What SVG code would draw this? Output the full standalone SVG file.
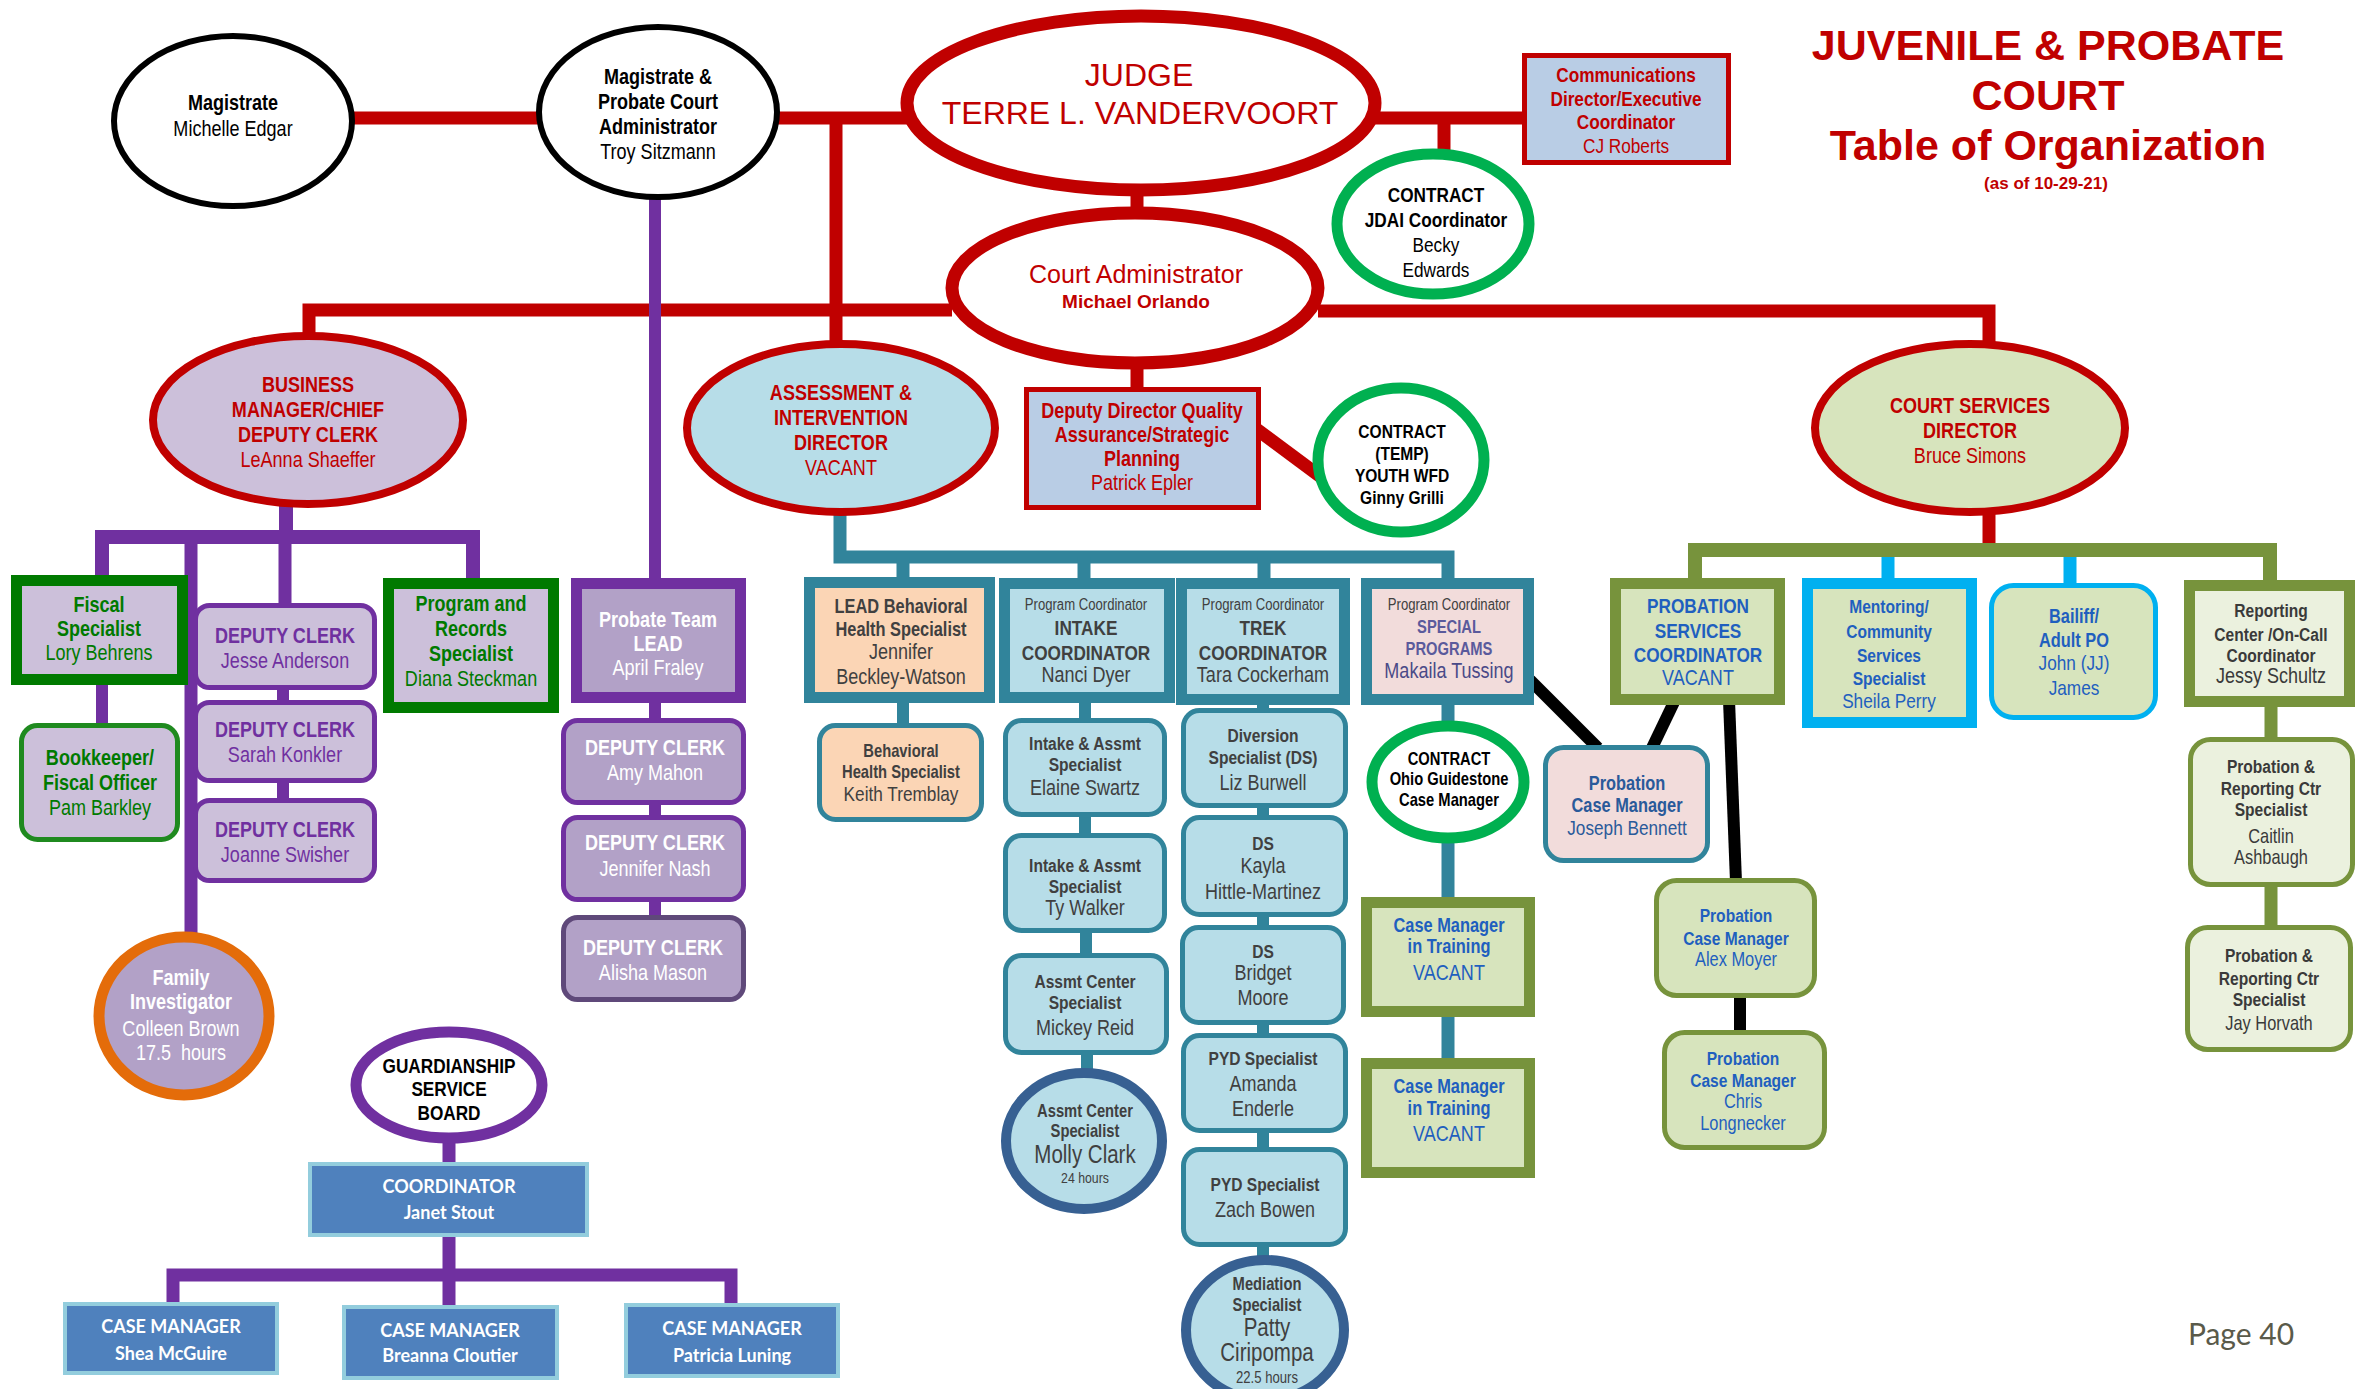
<svg xmlns="http://www.w3.org/2000/svg" width="2356" height="1389" viewBox="0 0 2356 1389">
<style>
text{text-anchor:middle}
.b{font-weight:bold}
.lato{font-family:Lato,"Liberation Sans",sans-serif;font-weight:bold;font-size:18px}
</style>
<rect width="2356" height="1389" fill="#fff"/>
<g font-family="'Liberation Sans', Arial, sans-serif" font-size="22">
<g id="connectors" fill="none">
 <g stroke="#c00000" stroke-width="13">
  <path d="M350 118 H545"/>
  <path d="M775 118 H910"/>
  <path d="M1375 118 H1527"/>
  <path d="M1444 118 V152"/>
  <path d="M836 118 V345"/>
  <path d="M1137 190 V215"/>
  <path d="M309 338 V310 H952"/>
  <path d="M1318 311 H1989 V343"/>
  <path d="M1137 365 V390"/>
  <path d="M1255 428 L1325 480"/>
  <path d="M1989 510 V544"/>
 </g>
 <g stroke="#7030a0">
  <path stroke-width="12" d="M655 195 V582"/>
  <path stroke-width="14" d="M286 505 V538"/>
  <path stroke-width="14" d="M102 578 V537 H473 V581"/>
  <path stroke-width="13" d="M191 537 V935"/>
  <path stroke-width="13" d="M285 537 V606"/>
  <path stroke-width="12" d="M102 683 V726"/>
  <path stroke-width="12" d="M283 686 V704 M283 779 V802"/>
  <path stroke-width="12" d="M655 700 V721 M655 801 V818 M655 898 V918"/>
  <path stroke-width="13" d="M449 1140 V1165 M449 1235 V1308"/>
  <path stroke-width="13" d="M173 1305 V1275 H731 V1306"/>
 </g>
 <g stroke="#31849b" stroke-width="13">
  <path d="M840 510 V557 H1448 V581"/>
  <path d="M903 557 V580 M1084 557 V581 M1264 557 V581"/>
  <path stroke-width="12" d="M903 700 V726"/>
  <path stroke-width="12" d="M1085 700 V721 M1085 815 V836 M1086 930 V956 M1087 1052 V1071"/>
  <path stroke-width="12" d="M1263 700 V711 M1263 805 V818 M1263 914 V928 M1263 1022 V1036 M1263 1130 V1150 M1263 1244 V1258"/>
  <path d="M1448 700 V723 M1448 840 V900 M1448 1014 V1061"/>
 </g>
 <g stroke="#000" stroke-width="12">
  <path d="M1530 680 L1598 748"/>
  <path d="M1675 700 L1651 750"/>
  <path d="M1729 700 L1736 882"/>
  <path d="M1740 994 V1034"/>
 </g>
 <g stroke="#00b0f0" stroke-width="13">
  <path d="M1888 556 V581 M2070 556 V587"/>
 </g>
 <g stroke="#77933c" stroke-width="14">
  <path d="M1695 582 V550 H2270 V584"/>
  <path stroke-width="13" d="M2271 703 V740 M2271 884 V928"/>
 </g>
</g>

<g id="title" fill="#c00000" font-weight="bold">
 <text x="2048" y="60" font-size="43">JUVENILE &amp; PROBATE</text>
 <text x="2048" y="110" font-size="43">COURT</text>
 <text x="2048" y="160" font-size="43">Table of Organization</text>
 <text x="2046" y="189" font-size="17">(as of 10-29-21)</text>
</g>

<g id="magistrate">
 <ellipse cx="233" cy="121" rx="119" ry="85" fill="#fff" stroke="#000" stroke-width="6"/>
 <g transform="translate(233 0) scale(0.82 1)" fill="#000">
  <text class="b" y="110">Magistrate</text>
  <text y="136">Michelle Edgar</text>
 </g>
</g>
<g id="magistrate-probate">
 <ellipse cx="658" cy="112" rx="119" ry="85" fill="#fff" stroke="#000" stroke-width="6"/>
 <g transform="translate(658 0) scale(0.82 1)" fill="#000">
  <text class="b" y="84">Magistrate &amp;</text>
  <text class="b" y="109">Probate Court</text>
  <text class="b" y="134">Administrator</text>
  <text y="159">Troy Sitzmann</text>
 </g>
</g>
<g id="judge">
 <ellipse cx="1141" cy="103" rx="234" ry="87" fill="#fff" stroke="#c00000" stroke-width="13"/>
 <g fill="#c00000" font-size="32">
  <text x="1139" y="86">JUDGE</text>
  <text x="1140" y="124">TERRE L. VANDERVOORT</text>
 </g>
</g>
<g id="communications">
 <rect x="1524.5" y="55.5" width="204" height="107" fill="#b9cde5" stroke="#c00000" stroke-width="5"/>
 <g transform="translate(1626 0) scale(0.82 1)" fill="#c00000" font-size="21">
  <text class="b" y="82">Communications</text>
  <text class="b" y="106">Director/Executive</text>
  <text class="b" y="129">Coordinator</text>
  <text y="153">CJ Roberts</text>
 </g>
</g>
<g id="jdai">
 <ellipse cx="1433" cy="224" rx="96" ry="70" fill="#fff" stroke="#00b050" stroke-width="11"/>
 <g transform="translate(1436 0) scale(0.82 1)" fill="#000" font-size="21">
  <text class="b" y="202">CONTRACT</text>
  <text class="b" y="227">JDAI Coordinator</text>
  <text y="252">Becky</text>
  <text y="277">Edwards</text>
 </g>
</g>
<g id="court-admin">
 <ellipse cx="1135" cy="288" rx="183" ry="75" fill="#fff" stroke="#c00000" stroke-width="13"/>
 <g fill="#c00000">
  <text x="1136" y="283" font-size="25">Court Administrator</text>
  <text x="1136" y="308" font-size="19" class="b">Michael Orlando</text>
 </g>
</g>
<g id="business">
 <ellipse cx="308" cy="420" rx="155" ry="84" fill="#ccc0da" stroke="#c00000" stroke-width="8"/>
 <g transform="translate(308 0) scale(0.82 1)" fill="#c00000">
  <text class="b" y="392">BUSINESS</text>
  <text class="b" y="417">MANAGER/CHIEF</text>
  <text class="b" y="442">DEPUTY CLERK</text>
  <text y="467">LeAnna Shaeffer</text>
 </g>
</g>
<g id="assessment">
 <ellipse cx="841" cy="428" rx="154" ry="84" fill="#b7dde8" stroke="#c00000" stroke-width="8"/>
 <g transform="translate(841 0) scale(0.82 1)" fill="#c00000">
  <text class="b" y="400">ASSESSMENT &amp;</text>
  <text class="b" y="425">INTERVENTION</text>
  <text class="b" y="450">DIRECTOR</text>
  <text y="475">VACANT</text>
 </g>
</g>
<g id="deputy-director">
 <rect x="1026.5" y="389.5" width="232" height="118" fill="#b9cde5" stroke="#c00000" stroke-width="5"/>
 <g transform="translate(1142 0) scale(0.82 1)" fill="#c00000">
  <text class="b" y="418">Deputy Director Quality</text>
  <text class="b" y="442">Assurance/Strategic</text>
  <text class="b" y="466">Planning</text>
  <text y="490">Patrick Epler</text>
 </g>
</g>
<g id="contract-temp">
 <ellipse cx="1401" cy="460" rx="83" ry="72" fill="#fff" stroke="#00b050" stroke-width="11"/>
 <g transform="translate(1402 0) scale(0.82 1)" fill="#000" font-size="19" font-weight="bold">
  <text y="438">CONTRACT</text>
  <text y="460">(TEMP)</text>
  <text y="482">YOUTH WFD</text>
  <text y="504">Ginny Grilli</text>
 </g>
</g>
<g id="court-services">
 <ellipse cx="1970" cy="428" rx="155" ry="84" fill="#d7e4bd" stroke="#c00000" stroke-width="8"/>
 <g transform="translate(1970 0) scale(0.82 1)" fill="#c00000">
  <text class="b" y="413">COURT SERVICES</text>
  <text class="b" y="438">DIRECTOR</text>
  <text y="463">Bruce Simons</text>
 </g>
</g>

<g id="fiscal">
 <rect x="16.5" y="580.5" width="166" height="99" fill="#ccc0da" stroke="#007a00" stroke-width="11"/>
 <g transform="translate(99 0) scale(0.82 1)" fill="#007a00">
  <text class="b" y="612">Fiscal</text>
  <text class="b" y="636">Specialist</text>
  <text y="660">Lory Behrens</text>
 </g>
</g>
<g id="bookkeeper">
 <rect x="21.5" y="725.5" width="156" height="114" rx="16" fill="#ccc0da" stroke="#1f8a1f" stroke-width="5"/>
 <g transform="translate(100 0) scale(0.82 1)" fill="#007a00">
  <text class="b" y="765">Bookkeeper/</text>
  <text class="b" y="790">Fiscal Officer</text>
  <text y="815">Pam Barkley</text>
 </g>
</g>
<g id="dc-anderson">
 <rect x="195.5" y="605.5" width="179" height="82" rx="14" fill="#ccc0da" stroke="#7030a0" stroke-width="5"/>
 <g transform="translate(285 0) scale(0.82 1)" fill="#7030a0">
  <text class="b" y="643">DEPUTY CLERK</text>
  <text y="668">Jesse Anderson</text>
 </g>
</g>
<g id="dc-konkler">
 <rect x="195.5" y="702.5" width="179" height="78" rx="14" fill="#ccc0da" stroke="#7030a0" stroke-width="5"/>
 <g transform="translate(285 0) scale(0.82 1)" fill="#7030a0">
  <text class="b" y="737">DEPUTY CLERK</text>
  <text y="762">Sarah Konkler</text>
 </g>
</g>
<g id="dc-swisher">
 <rect x="195.5" y="800.5" width="179" height="80" rx="14" fill="#ccc0da" stroke="#7030a0" stroke-width="5"/>
 <g transform="translate(285 0) scale(0.82 1)" fill="#7030a0">
  <text class="b" y="837">DEPUTY CLERK</text>
  <text y="862">Joanne Swisher</text>
 </g>
</g>
<g id="program-records">
 <rect x="388.5" y="583.5" width="165" height="124" fill="#ccc0da" stroke="#007a00" stroke-width="11"/>
 <g transform="translate(471 0) scale(0.82 1)" fill="#007a00">
  <text class="b" y="611">Program and</text>
  <text class="b" y="636">Records</text>
  <text class="b" y="661">Specialist</text>
  <text y="686">Diana Steckman</text>
 </g>
</g>
<g id="family-investigator">
 <ellipse cx="184" cy="1016" rx="85" ry="79" fill="#b2a1c7" stroke="#e46c0a" stroke-width="11"/>
 <g transform="translate(181 0) scale(0.82 1)" fill="#fff">
  <text class="b" y="985">Family</text>
  <text class="b" y="1009">Investigator</text>
  <text y="1036">Colleen Brown</text>
  <text y="1060" xml:space="preserve">17.5  hours</text>
 </g>
</g>

<g id="probate-lead">
 <rect x="576.5" y="583.5" width="164" height="114" fill="#b2a1c7" stroke="#7030a0" stroke-width="11"/>
 <g transform="translate(658 0) scale(0.82 1)" fill="#fff">
  <text class="b" y="627">Probate Team</text>
  <text class="b" y="651">LEAD</text>
  <text y="675">April Fraley</text>
 </g>
</g>
<g id="dc-mahon">
 <rect x="563.5" y="720.5" width="180" height="82" rx="14" fill="#b2a1c7" stroke="#7030a0" stroke-width="5"/>
 <g transform="translate(655 0) scale(0.82 1)" fill="#fff">
  <text class="b" y="755">DEPUTY CLERK</text>
  <text y="780">Amy Mahon</text>
 </g>
</g>
<g id="dc-nash">
 <rect x="563.5" y="817.5" width="180" height="82" rx="14" fill="#b2a1c7" stroke="#7030a0" stroke-width="5"/>
 <g transform="translate(655 0) scale(0.82 1)" fill="#fff">
  <text class="b" y="850">DEPUTY CLERK</text>
  <text y="876">Jennifer Nash</text>
 </g>
</g>
<g id="dc-mason">
 <rect x="563.5" y="917.5" width="180" height="82" rx="14" fill="#b2a1c7" stroke="#5f497a" stroke-width="5"/>
 <g transform="translate(653 0) scale(0.82 1)" fill="#fff">
  <text class="b" y="955">DEPUTY CLERK</text>
  <text y="980">Alisha Mason</text>
 </g>
</g>

<g id="guardianship">
 <ellipse cx="449" cy="1085" rx="93" ry="53" fill="#fff" stroke="#7030a0" stroke-width="11"/>
 <g transform="translate(449 0) scale(0.82 1)" fill="#000" font-size="21" font-weight="bold">
  <text y="1073">GUARDIANSHIP</text>
  <text y="1096">SERVICE</text>
  <text y="1120">BOARD</text>
 </g>
</g>
<g id="gsb-coordinator">
 <rect x="310" y="1164" width="277" height="71" fill="#4f81bd" stroke="#93cddd" stroke-width="4"/>
 <text class="lato" x="449" y="1193" fill="#fff">COORDINATOR</text>
 <text class="lato" x="449" y="1219" fill="#fff">Janet Stout</text>
</g>
<g id="cm-mcguire">
 <rect x="65" y="1304" width="212" height="69" fill="#4f81bd" stroke="#93cddd" stroke-width="4"/>
 <text class="lato" x="171" y="1333" fill="#fff">CASE MANAGER</text>
 <text class="lato" x="171" y="1360" fill="#fff">Shea McGuire</text>
</g>
<g id="cm-cloutier">
 <rect x="344" y="1307" width="213" height="71" fill="#4f81bd" stroke="#93cddd" stroke-width="4"/>
 <text class="lato" x="450" y="1337" fill="#fff">CASE MANAGER</text>
 <text class="lato" x="450" y="1362" fill="#fff">Breanna Cloutier</text>
</g>
<g id="cm-luning">
 <rect x="626" y="1305" width="212" height="71" fill="#4f81bd" stroke="#93cddd" stroke-width="4"/>
 <text class="lato" x="732" y="1335" fill="#fff">CASE MANAGER</text>
 <text class="lato" x="732" y="1362" fill="#fff">Patricia Luning</text>
</g>

<g id="lead-behavioral">
 <rect x="809.5" y="582.5" width="180" height="115" fill="#fbd5b5" stroke="#31849b" stroke-width="11"/>
 <g transform="translate(901 0) scale(0.82 1)" fill="#404040">
  <text class="b" y="613" font-size="20">LEAD Behavioral</text>
  <text class="b" y="636" font-size="20">Health Specialist</text>
  <text y="659">Jennifer</text>
  <text y="684">Beckley-Watson</text>
 </g>
</g>
<g id="behavioral-tremblay">
 <rect x="819.5" y="725.5" width="162" height="94" rx="16" fill="#fbd5b5" stroke="#31849b" stroke-width="5"/>
 <g transform="translate(901 0) scale(0.82 1)" fill="#404040">
  <text class="b" y="757" font-size="18">Behavioral</text>
  <text class="b" y="778" font-size="18">Health Specialist</text>
  <text y="801" font-size="21">Keith Tremblay</text>
 </g>
</g>
<g id="intake">
 <rect x="1004.5" y="583.5" width="165" height="114" fill="#b7dde8" stroke="#31849b" stroke-width="11"/>
 <g transform="translate(1086 0) scale(0.82 1)" fill="#404040">
  <text y="610" font-size="16">Program Coordinator</text>
  <text class="b" y="635" font-size="21">INTAKE</text>
  <text class="b" y="660" font-size="21">COORDINATOR</text>
  <text y="682">Nanci Dyer</text>
 </g>
</g>
<g id="intake-swartz">
 <rect x="1005.5" y="720.5" width="159" height="94" rx="16" fill="#b7dde8" stroke="#31849b" stroke-width="5"/>
 <g transform="translate(1085 0) scale(0.82 1)" fill="#404040">
  <text class="b" y="750" font-size="19">Intake &amp; Assmt</text>
  <text class="b" y="771" font-size="19">Specialist</text>
  <text y="795">Elaine Swartz</text>
 </g>
</g>
<g id="intake-walker">
 <rect x="1005.5" y="835.5" width="159" height="95" rx="16" fill="#b7dde8" stroke="#31849b" stroke-width="5"/>
 <g transform="translate(1085 0) scale(0.82 1)" fill="#404040">
  <text class="b" y="872" font-size="19">Intake &amp; Assmt</text>
  <text class="b" y="893" font-size="19">Specialist</text>
  <text y="915">Ty Walker</text>
 </g>
</g>
<g id="assmt-reid">
 <rect x="1005.5" y="955.5" width="161" height="97" rx="16" fill="#b7dde8" stroke="#31849b" stroke-width="5"/>
 <g transform="translate(1085 0) scale(0.82 1)" fill="#404040">
  <text class="b" y="988" font-size="19">Assmt Center</text>
  <text class="b" y="1009" font-size="19">Specialist</text>
  <text y="1035">Mickey Reid</text>
 </g>
</g>
<g id="assmt-clark">
 <ellipse cx="1084" cy="1141" rx="78" ry="68" fill="#b7dde8" stroke="#376092" stroke-width="10"/>
 <g transform="translate(1085 0) scale(0.82 1)" fill="#404040">
  <text class="b" y="1117" font-size="18">Assmt Center</text>
  <text class="b" y="1137" font-size="18">Specialist</text>
  <text y="1163" font-size="25">Molly Clark</text>
  <text y="1183" font-size="15">24 hours</text>
 </g>
</g>

<g id="trek">
 <rect x="1181.5" y="583.5" width="163" height="116" fill="#b7dde8" stroke="#31849b" stroke-width="11"/>
 <g transform="translate(1263 0) scale(0.82 1)" fill="#404040">
  <text y="610" font-size="16">Program Coordinator</text>
  <text class="b" y="635" font-size="21">TREK</text>
  <text class="b" y="660" font-size="21">COORDINATOR</text>
  <text y="682">Tara Cockerham</text>
 </g>
</g>
<g id="ds-burwell">
 <rect x="1183.5" y="710.5" width="162" height="95" rx="16" fill="#b7dde8" stroke="#31849b" stroke-width="5"/>
 <g transform="translate(1263 0) scale(0.82 1)" fill="#404040">
  <text class="b" y="742" font-size="19">Diversion</text>
  <text class="b" y="764" font-size="19">Specialist (DS)</text>
  <text y="790">Liz Burwell</text>
 </g>
</g>
<g id="ds-hittle">
 <rect x="1183.5" y="817.5" width="162" height="97" rx="16" fill="#b7dde8" stroke="#31849b" stroke-width="5"/>
 <g transform="translate(1263 0) scale(0.82 1)" fill="#404040">
  <text class="b" y="850" font-size="19">DS</text>
  <text y="873">Kayla</text>
  <text y="899">Hittle-Martinez</text>
 </g>
</g>
<g id="ds-moore">
 <rect x="1182.5" y="927.5" width="161" height="95" rx="16" fill="#b7dde8" stroke="#31849b" stroke-width="5"/>
 <g transform="translate(1263 0) scale(0.82 1)" fill="#404040">
  <text class="b" y="958" font-size="19">DS</text>
  <text y="980">Bridget</text>
  <text y="1005">Moore</text>
 </g>
</g>
<g id="pyd-enderle">
 <rect x="1183.5" y="1035.5" width="162" height="95" rx="16" fill="#b7dde8" stroke="#31849b" stroke-width="5"/>
 <g transform="translate(1263 0) scale(0.82 1)" fill="#404040">
  <text class="b" y="1065" font-size="19">PYD Specialist</text>
  <text y="1091">Amanda</text>
  <text y="1116">Enderle</text>
 </g>
</g>
<g id="pyd-bowen">
 <rect x="1183.5" y="1149.5" width="162" height="95" rx="16" fill="#b7dde8" stroke="#31849b" stroke-width="5"/>
 <g transform="translate(1265 0) scale(0.82 1)" fill="#404040">
  <text class="b" y="1191" font-size="19">PYD Specialist</text>
  <text y="1217">Zach Bowen</text>
 </g>
</g>
<g id="mediation">
 <ellipse cx="1265" cy="1330" rx="79" ry="70" fill="#b7dde8" stroke="#376092" stroke-width="10"/>
 <g transform="translate(1267 0) scale(0.82 1)" fill="#404040">
  <text class="b" y="1290" font-size="18">Mediation</text>
  <text class="b" y="1311" font-size="18">Specialist</text>
  <text y="1336" font-size="25">Patty</text>
  <text y="1361" font-size="25">Ciripompa</text>
  <text y="1383" font-size="16">22.5 hours</text>
 </g>
</g>

<g id="special-programs">
 <rect x="1366.5" y="583.5" width="162" height="116" fill="#f2dcdb" stroke="#31849b" stroke-width="11"/>
 <g transform="translate(1449 0) scale(0.82 1)">
  <text y="610" font-size="16" fill="#404040">Program Coordinator</text>
  <text class="b" y="633" font-size="18" fill="#5a5a9c">SPECIAL</text>
  <text class="b" y="655" font-size="18" fill="#5a5a9c">PROGRAMS</text>
  <text y="678" fill="#4a4a88">Makaila Tussing</text>
 </g>
</g>
<g id="ohio-guidestone">
 <ellipse cx="1448" cy="782" rx="76" ry="56" fill="#fff" stroke="#00b050" stroke-width="11"/>
 <g transform="translate(1449 0) scale(0.82 1)" fill="#000" font-size="18" font-weight="bold">
  <text y="765">CONTRACT</text>
  <text y="785">Ohio Guidestone</text>
  <text y="806">Case Manager</text>
 </g>
</g>
<g id="cm-training-1">
 <rect x="1366.5" y="902.5" width="163" height="109" fill="#d7e4bd" stroke="#77933c" stroke-width="11"/>
 <g transform="translate(1449 0) scale(0.82 1)" fill="#1f5fbf">
  <text class="b" y="932" font-size="20">Case Manager</text>
  <text class="b" y="953" font-size="20">in Training</text>
  <text y="980">VACANT</text>
 </g>
</g>
<g id="cm-training-2">
 <rect x="1366.5" y="1063.5" width="163" height="109" fill="#d7e4bd" stroke="#77933c" stroke-width="11"/>
 <g transform="translate(1449 0) scale(0.82 1)" fill="#1f5fbf">
  <text class="b" y="1093" font-size="20">Case Manager</text>
  <text class="b" y="1115" font-size="20">in Training</text>
  <text y="1141">VACANT</text>
 </g>
</g>
<g id="probation-bennett">
 <rect x="1545.5" y="747.5" width="162" height="113" rx="18" fill="#f2dcdb" stroke="#31849b" stroke-width="5"/>
 <g transform="translate(1627 0) scale(0.82 1)" fill="#2a5a9a">
  <text class="b" y="790" font-size="20">Probation</text>
  <text class="b" y="812" font-size="20">Case Manager</text>
  <text y="835" font-size="21">Joseph Bennett</text>
 </g>
</g>

<g id="probation-services">
 <rect x="1615.5" y="583.5" width="164" height="116" fill="#d7e4bd" stroke="#77933c" stroke-width="11"/>
 <g transform="translate(1698 0) scale(0.82 1)" fill="#1f5fbf">
  <text class="b" y="613" font-size="21">PROBATION</text>
  <text class="b" y="638" font-size="21">SERVICES</text>
  <text class="b" y="662" font-size="21">COORDINATOR</text>
  <text y="685">VACANT</text>
 </g>
</g>
<g id="probation-moyer">
 <rect x="1656.5" y="880.5" width="158" height="115" rx="20" fill="#d7e4bd" stroke="#77933c" stroke-width="5"/>
 <g transform="translate(1736 0) scale(0.82 1)" fill="#1f5fbf">
  <text class="b" y="922" font-size="19">Probation</text>
  <text class="b" y="945" font-size="19">Case Manager</text>
  <text y="966" font-size="20">Alex Moyer</text>
 </g>
</g>
<g id="probation-longnecker">
 <rect x="1664.5" y="1032.5" width="160" height="115" rx="20" fill="#d7e4bd" stroke="#77933c" stroke-width="5"/>
 <g transform="translate(1743 0) scale(0.82 1)" fill="#1f5fbf">
  <text class="b" y="1065" font-size="19">Probation</text>
  <text class="b" y="1087" font-size="19">Case Manager</text>
  <text y="1108" font-size="20">Chris</text>
  <text y="1130" font-size="20">Longnecker</text>
 </g>
</g>
<g id="mentoring">
 <rect x="1807.5" y="583.5" width="164" height="139" fill="#d7e4bd" stroke="#00b0f0" stroke-width="11"/>
 <g transform="translate(1889 0) scale(0.82 1)" fill="#1f5fbf">
  <text class="b" y="613" font-size="19">Mentoring/</text>
  <text class="b" y="638" font-size="19">Community</text>
  <text class="b" y="662" font-size="19">Services</text>
  <text class="b" y="685" font-size="19">Specialist</text>
  <text y="708" font-size="21">Sheila Perry</text>
 </g>
</g>
<g id="bailiff">
 <rect x="1991.5" y="585.5" width="164" height="132" rx="22" fill="#d7e4bd" stroke="#00b0f0" stroke-width="5"/>
 <g transform="translate(2074 0) scale(0.82 1)" fill="#1f5fbf">
  <text class="b" y="623" font-size="20">Bailiff/</text>
  <text class="b" y="647" font-size="20">Adult PO</text>
  <text y="670" font-size="21">John (JJ)</text>
  <text y="695" font-size="21">James</text>
 </g>
</g>
<g id="reporting-center">
 <rect x="2189.5" y="585.5" width="160" height="116" fill="#ebf1de" stroke="#77933c" stroke-width="11"/>
 <g transform="translate(2271 0) scale(0.82 1)" fill="#3a3a3a">
  <text class="b" y="617" font-size="19">Reporting</text>
  <text class="b" y="641" font-size="19">Center /On-Call</text>
  <text class="b" y="662" font-size="19">Coordinator</text>
  <text y="683">Jessy Schultz</text>
 </g>
</g>
<g id="reporting-ashbaugh">
 <rect x="2190.5" y="739.5" width="162" height="145" rx="20" fill="#ebf1de" stroke="#77933c" stroke-width="5"/>
 <g transform="translate(2271 0) scale(0.82 1)" fill="#3a3a3a">
  <text class="b" y="773" font-size="19">Probation &amp;</text>
  <text class="b" y="795" font-size="19">Reporting Ctr</text>
  <text class="b" y="816" font-size="19">Specialist</text>
  <text y="843" font-size="20">Caitlin</text>
  <text y="864" font-size="20">Ashbaugh</text>
 </g>
</g>
<g id="reporting-horvath">
 <rect x="2187.5" y="927.5" width="163" height="122" rx="20" fill="#ebf1de" stroke="#77933c" stroke-width="5"/>
 <g transform="translate(2269 0) scale(0.82 1)" fill="#3a3a3a">
  <text class="b" y="962" font-size="19">Probation &amp;</text>
  <text class="b" y="985" font-size="19">Reporting Ctr</text>
  <text class="b" y="1006" font-size="19">Specialist</text>
  <text y="1030" font-size="20">Jay Horvath</text>
 </g>
</g>

<text id="page-number" x="2241" y="1345" font-family="Lato, 'Open Sans', sans-serif" font-size="30" fill="#5a5a4a">Page 40</text>
</g>
</svg>
